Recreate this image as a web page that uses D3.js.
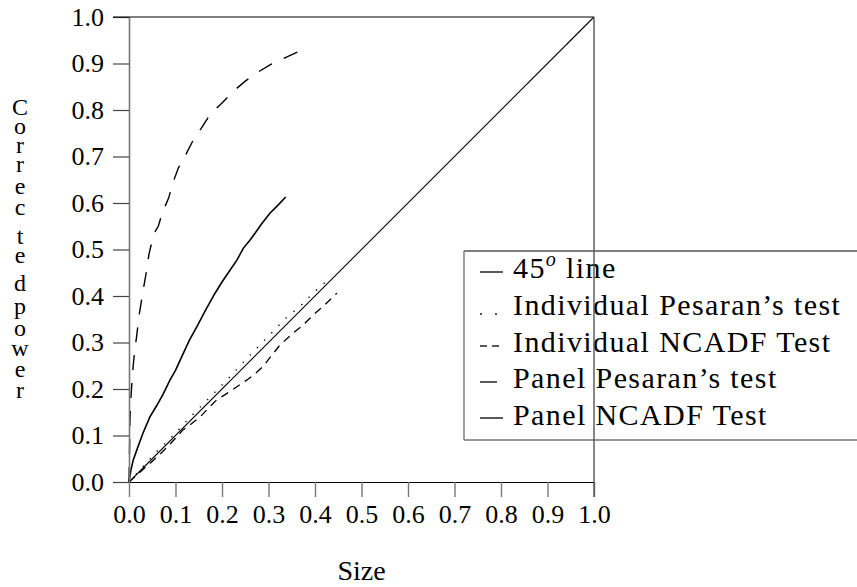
<!DOCTYPE html>
<html>
<head>
<meta charset="utf-8">
<script src="https://cdn.jsdelivr.net/npm/d3@7/dist/d3.min.js"></script>
<style>
  html, body { margin: 0; padding: 0; background: #fff; overflow: hidden; }
  svg { display: block; }
  svg text { fill: #000; }
</style>
</head>
<body>
<div id="chart"></div>
<script>
// ── Data: [size, corrected power] ─────────────────────────────
const panelPesaran = [
  [0, 0], [0.001, 0.06], [0.002, 0.13], [0.004, 0.18], [0.006, 0.21],
  [0.009, 0.25], [0.012, 0.28], [0.016, 0.31], [0.022, 0.36], [0.03, 0.41],
  [0.037, 0.45], [0.043, 0.49], [0.05, 0.52], [0.057, 0.54], [0.063, 0.55],
  [0.072, 0.58], [0.085, 0.61], [0.095, 0.645], [0.106, 0.675], [0.12, 0.70],
  [0.138, 0.735], [0.155, 0.76], [0.174, 0.79], [0.2, 0.815], [0.224, 0.84],
  [0.25, 0.862], [0.275, 0.88], [0.305, 0.898], [0.331, 0.91], [0.363, 0.925]
];

const panelNCADF = [
  [0, 0], [0.004, 0.025], [0.009, 0.047], [0.019, 0.075], [0.03, 0.105],
  [0.045, 0.14], [0.06, 0.165], [0.074, 0.19], [0.088, 0.219], [0.1, 0.24],
  [0.117, 0.277], [0.13, 0.305], [0.146, 0.334], [0.165, 0.37], [0.185, 0.406],
  [0.2, 0.43], [0.215, 0.452], [0.232, 0.477], [0.246, 0.503], [0.26, 0.52],
  [0.271, 0.535], [0.285, 0.555], [0.303, 0.578], [0.32, 0.595], [0.337, 0.613]
];

const indivNCADF = [
  [0, 0], [0.02, 0.018], [0.045, 0.04], [0.065, 0.058], [0.082, 0.075],
  [0.1, 0.094], [0.116, 0.112], [0.135, 0.126], [0.153, 0.14], [0.17, 0.158],
  [0.189, 0.177], [0.21, 0.19], [0.232, 0.205], [0.253, 0.219], [0.27, 0.232],
  [0.288, 0.248], [0.305, 0.27], [0.325, 0.295], [0.353, 0.32], [0.375, 0.338],
  [0.396, 0.359], [0.42, 0.38], [0.447, 0.406]
];

const indivPesaran = [
  [0, 0], [0.03, 0.033], [0.056, 0.062], [0.095, 0.1], [0.13, 0.138],
  [0.17, 0.178], [0.21, 0.219], [0.25, 0.262], [0.271, 0.284], [0.31, 0.324],
  [0.34, 0.355], [0.368, 0.378], [0.4, 0.41], [0.432, 0.438]
];

const line45 = [[0, 0], [1, 1]];

const tickValues = d3.range(0, 11).map(i => i / 10);
const xTitle = "Size";
const yTitle = "Corrected power";
const legendLabels = ["45", "Individual Pesaran\u2019s test", "Individual NCADF Test",
                      "Panel Pesaran\u2019s test", "Panel NCADF Test"];

// ── Layout ───────────────────────────────────
const W = 857, H = 587;
const FONT = "'Liberation Serif', 'DejaVu Serif', serif";
const x = d3.scaleLinear().domain([0, 1]).range([129, 594]);
const y = d3.scaleLinear().domain([0, 1]).range([482, 17]);

const svg = d3.select("#chart").append("svg")
  .attr("width", W).attr("height", H)
  .attr("font-family", FONT);

svg.append("rect").attr("width", W).attr("height", H).attr("fill", "#fff");

const lineGen = d3.line().x(d => x(d[0])).y(d => y(d[1]));

// ── Curves ───────────────────────────────────
const series = [
  { data: line45,       dash: null,     width: 1.1 },
  { data: indivPesaran, dash: "1.3,9",  width: 1.4 },
  { data: indivNCADF,   dash: "8,6",    width: 1.3 },
  { data: panelPesaran, dash: "15,13",  width: 1.4 },
  { data: panelNCADF,   dash: null,     width: 1.6 }
];

series.forEach(s => {
  svg.append("path")
    .attr("d", lineGen(s.data))
    .attr("fill", "none")
    .attr("stroke", "#000")
    .attr("stroke-width", s.width)
    .attr("stroke-dasharray", s.dash);
});

// ── Axes ─────────────────────────────────────
const fontTick = 26;

svg.append("g")
  .attr("transform", `translate(${x(0)},0)`)
  .call(d3.axisLeft(y).tickValues(tickValues).tickFormat(d3.format(".1f"))
    .tickSize(16).tickSizeOuter(0).tickPadding(9))
  .attr("font-family", FONT)
  .call(g => g.select(".domain").attr("stroke", "#777").attr("stroke-width", 1.6))
  .call(g => g.selectAll(".tick line").attr("stroke", "#444").attr("stroke-width", 1.2))
  .call(g => g.selectAll(".tick text")
    .attr("font-size", fontTick)
    .attr("fill", "#000"));

svg.append("g")
  .attr("transform", `translate(0,${y(0)})`)
  .call(d3.axisBottom(x).tickValues(tickValues).tickFormat(d3.format(".1f"))
    .tickSize(15).tickSizeOuter(0).tickPadding(8))
  .attr("font-family", FONT)
  .call(g => g.select(".domain").attr("stroke", "#000").attr("stroke-width", 1.2))
  .call(g => g.selectAll(".tick line").attr("stroke", "#777").attr("stroke-width", 1.4))
  .call(g => g.selectAll(".tick text")
    .attr("font-size", fontTick)
    .attr("fill", "#000"));

// top border
svg.append("line")
  .attr("x1", x(0) - 16).attr("x2", x(1))
  .attr("y1", y(1)).attr("y2", y(1))
  .attr("stroke", "#000").attr("stroke-width", 1.2);

// ── Axis titles ──────────────────────────────
svg.append("text")
  .attr("x", (x(0) + x(1)) / 2)
  .attr("y", 580)
  .attr("text-anchor", "middle")
  .attr("font-size", 28)
  .text(xTitle);

const yLetterBaselines = [115, 134, 153, 172, 194, 215, 244, 263, 291, 314, 336, 356, 377, 398];
const yLetters = yTitle.replace(/\s/g, "").split("");
svg.append("g").selectAll("text")
  .data(yLetters)
  .join("text")
  .attr("x", 20)
  .attr("y", (d, i) => yLetterBaselines[i])
  .attr("text-anchor", "middle")
  .attr("font-size", 24)
  .text(d => d);

// ── Legend ───────────────────────────────────
const lg = svg.append("g");
lg.append("rect")
  .attr("x", 464).attr("y", 251)
  .attr("width", 420).attr("height", 189)
  .attr("fill", "#fff")
  .attr("stroke", "none");
lg.append("line").attr("x1", 464).attr("x2", W).attr("y1", 251).attr("y2", 251)
  .attr("stroke", "#000").attr("stroke-width", 1.2);
lg.append("line").attr("x1", 464).attr("x2", W).attr("y1", 440).attr("y2", 440)
  .attr("stroke", "#333").attr("stroke-width", 1.2);
lg.append("line").attr("x1", 464).attr("x2", 464).attr("y1", 251).attr("y2", 440)
  .attr("stroke", "#777").attr("stroke-width", 1.4);

const legendBase = [278, 315, 352, 388, 425];
const legendSize = 30;

legendLabels.forEach((lab, i) => {
  const t = lg.append("text")
    .attr("x", 513).attr("y", legendBase[i])
    .attr("font-size", legendSize)
    .attr("letter-spacing", 1.4);
  if (i === 0) {
    t.append("tspan").text("45");
    t.append("tspan").attr("font-size", 20).attr("font-style", "italic")
      .attr("dy", -12).text("o");
    t.append("tspan").attr("dy", 12).text(" line");
  } else {
    t.text(lab);
  }
});

// legend keys
lg.append("line").attr("x1", 480).attr("x2", 503).attr("y1", 272).attr("y2", 272)
  .attr("stroke", "#000").attr("stroke-width", 1.3);
[481, 496].forEach(cx => lg.append("circle")
  .attr("cx", cx).attr("cy", 314).attr("r", 0.9).attr("fill", "#000"));
[[480, 487], [492, 499]].forEach(([a, b]) => lg.append("line")
  .attr("x1", a).attr("x2", b).attr("y1", 346).attr("y2", 346)
  .attr("stroke", "#000").attr("stroke-width", 1.3));
lg.append("line").attr("x1", 480).attr("x2", 497).attr("y1", 382).attr("y2", 382)
  .attr("stroke", "#000").attr("stroke-width", 1.3);
lg.append("line").attr("x1", 480).attr("x2", 503).attr("y1", 418).attr("y2", 418)
  .attr("stroke", "#000").attr("stroke-width", 1.3);

// right border (drawn over legend)
svg.append("line")
  .attr("x1", x(1)).attr("x2", x(1))
  .attr("y1", y(1)).attr("y2", y(0) + 15)
  .attr("stroke", "#555").attr("stroke-width", 1.4);
</script>
</body>
</html>
